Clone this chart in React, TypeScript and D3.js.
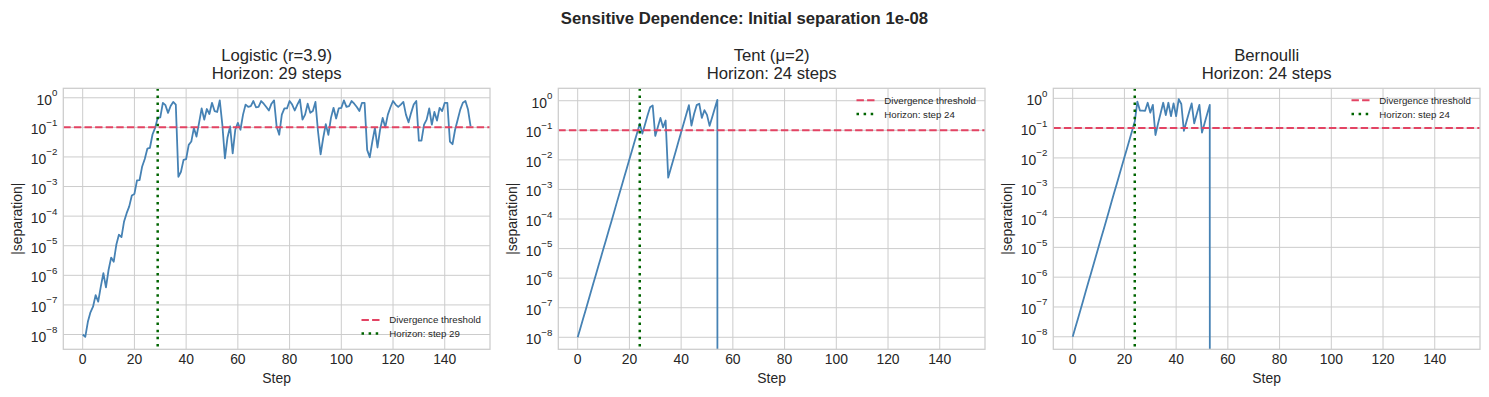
import React from 'react';
import * as d3 from 'd3';

// ---------- data ----------
const SUPTITLE = 'Sensitive Dependence: Initial separation 1e-08';
const STEP_TICKS = [0, 20, 40, 60, 80, 100, 120, 140];
const DECADE_TICKS = [-8, -7, -6, -5, -4, -3, -2, -1, 0];
const THRESHOLD = 0.1;
const panelNames = ['Logistic (r=3.9)', 'Tent (μ=2)', 'Bernoulli'];
const horizons = [29, 24, 24];

// log10(|separation|) per step; null = separation collapsed to exactly 0
const logisticExp = [
  -8.0, -8.08, -7.57, -7.25, -7.06, -6.67, -6.89, -6.38, -5.93, -6.41,
  -5.82, -5.4, -5.54, -4.97, -4.63, -4.71, -4.18, -3.9, -3.67, -3.3,
  -3.25, -2.79, -2.78, -2.32, -2.07, -1.72, -1.69, -1.24, -1.02, -0.68,
  -0.66, -0.17, -0.25, -0.51, -0.28, -0.14, -0.23, -2.67, -2.5, -2.1,
  -2.07, -1.59, -1.48, -1.02, -1.31, -0.85, -0.36, -0.74, -0.38, -0.55,
  -0.17, -0.45, -0.48, -0.09, -0.91, -2.05, -1.34, -0.97, -1.88, -1.08,
  -0.85, -1.08, -0.57, -0.23, -0.31, -0.28, -0.11, -0.32, -0.31, -0.11,
  -0.2, -0.31, -0.43, -0.2, -0.09, -0.97, -1.25, -0.57, -0.36, -0.36,
  -0.11, -0.23, -0.43, -0.23, -0.06, -0.74, -0.57, -0.2, -0.51, -0.45,
  -0.14, -1.14, -1.91, -1.36, -0.89, -1.25, -0.68, -0.34, -0.7, -0.36,
  -0.34, -0.09, -0.31, -0.28, -0.11, -0.2, -0.31, -0.45, -0.17, -0.17,
  -1.76, -2.01, -1.48, -1.02, -1.68, -1.08, -0.68, -1.0, -0.57, -0.32,
  -0.11, -0.23, -0.31, -0.23, -0.14, -0.57, -0.83, -0.51, -0.23, -0.11,
  -1.45, -1.45, -0.91, -0.74, -0.36, -0.91, -0.48, -0.77, -0.34, -0.45,
  -0.17, -0.17, -1.48, -1.57, -1.08, -0.74, -0.4, -0.17, -0.11, -0.4,
  -0.97,
];

const tentExp = [
  -8.0, -7.7, -7.4, -7.1, -6.8, -6.49, -6.19, -5.89, -5.59, -5.29,
  -4.99, -4.69, -4.39, -4.09, -3.79, -3.48, -3.18, -2.88, -2.58, -2.28,
  -1.98, -1.68, -1.38, -1.08, -0.78, -1.11, -0.81, -0.5, -0.22, -0.16,
  -1.19, -0.89, -0.58, -0.9, -0.67, -2.6, -2.29, -1.99, -1.68, -1.37,
  -1.07, -0.76, -0.46, -0.15, -0.84, -0.45, -0.15, -0.1, -0.58, -0.32,
  -0.48, -0.85, -0.56, -0.26, 0.03, null,
];

const bernoulliExp = [
  -8.0, -7.7, -7.4, -7.1, -6.8, -6.49, -6.19, -5.89, -5.59, -5.29,
  -4.99, -4.69, -4.39, -4.09, -3.79, -3.48, -3.18, -2.88, -2.58, -2.28,
  -1.98, -1.68, -1.38, -1.08, -0.78, -0.11, -0.41, -0.41, -0.42, -0.15,
  -0.48, -0.22, -1.23, -0.85, -0.5, -0.15, -0.56, -0.15, -0.6, -0.17,
  -0.6, -0.03, -0.19, -1.09, -0.78, -0.47, -0.17, -0.84, -0.52, -0.22,
  -1.15, -0.84, -0.53, -0.22, null,
];

const seriesExps = [logisticExp, tentExp, bernoulliExp];

// ---------- layout ----------
const W = 1489;
const H = 397;
const AX_LEFTS = [63.3, 558.3, 1053.3];
const AX_W = 426.7;
const AX_TOP = 88.3;
const AX_BOTTOM = 349.3;
const X_DOMAIN = [-7.5, 157.5];
const Y_DOMAIN_EXP = [
  [-8.5, 0.32],
  [-8.406, 0.42],
  [-8.42, 0.336],
];
const LEGEND_LOC = ['lower right', 'upper right', 'upper right'];

const FONT = 'Liberation Sans, Arial, Helvetica, sans-serif';
const TEXT = '#262626';
const GRID = '#cccccc';
const BLUE = '#4682b4';
const RED = '#e34363';
const GREEN = '#006400';

function Panel({ idx }: { idx: number }) {
  const left = AX_LEFTS[idx];
  const right = left + AX_W;
  const x = d3.scaleLinear().domain(X_DOMAIN).range([left, right]);
  const [e0, e1] = Y_DOMAIN_EXP[idx];
  const y = d3
    .scaleLog()
    .domain([Math.pow(10, e0), Math.pow(10, e1)])
    .range([AX_BOTTOM, AX_TOP]);

  const data = seriesExps[idx].map((e, i) => ({
    step: i,
    sep: e === null ? 0 : Math.pow(10, e),
  }));
  const line = d3
    .line<{ step: number; sep: number }>()
    .x((d) => x(d.step))
    .y((d) => y(d.sep > 0 ? d.sep : 1e-300));

  const clipId = `clip-${idx}`;
  const cx = (left + right) / 2;
  const cy = (AX_TOP + AX_BOTTOM) / 2;

  const lower = LEGEND_LOC[idx] === 'lower right';
  const rows = lower
    ? [AX_BOTTOM - 29.3, AX_BOTTOM - 15.8]
    : [AX_TOP + 12, AX_TOP + 25.8];
  const hx0 = right - 128.5;
  const hx1 = right - 110;
  const tx = right - 100.7;

  return (
    <g>
      <defs>
        <clipPath id={clipId}>
          <rect x={left} y={AX_TOP} width={AX_W} height={AX_BOTTOM - AX_TOP} />
        </clipPath>
      </defs>
      {/* grid */}
      {STEP_TICKS.map((t) => (
        <line
          key={`gx${t}`}
          x1={x(t)}
          x2={x(t)}
          y1={AX_TOP}
          y2={AX_BOTTOM}
          stroke={GRID}
          strokeWidth={1}
        />
      ))}
      {DECADE_TICKS.map((e) => (
        <line
          key={`gy${e}`}
          x1={left}
          x2={right}
          y1={y(Math.pow(10, e))}
          y2={y(Math.pow(10, e))}
          stroke={GRID}
          strokeWidth={1}
        />
      ))}
      <g clipPath={`url(#${clipId})`}>
        <path d={line(data) || ''} fill="none" stroke={BLUE} strokeWidth={1.8} strokeLinejoin="round" />
        <line
          x1={left}
          x2={right}
          y1={y(THRESHOLD)}
          y2={y(THRESHOLD)}
          stroke={RED}
          strokeWidth={2}
          strokeDasharray="7.4 3.2"
        />
        <line
          x1={x(horizons[idx])}
          x2={x(horizons[idx])}
          y1={AX_TOP}
          y2={AX_BOTTOM}
          stroke={GREEN}
          strokeWidth={2.5}
          strokeDasharray="2.5 4.6"
        />
      </g>
      {/* spines */}
      <rect
        x={left}
        y={AX_TOP}
        width={AX_W}
        height={AX_BOTTOM - AX_TOP}
        fill="none"
        stroke={GRID}
        strokeWidth={1.25}
      />
      {/* x tick labels */}
      {STEP_TICKS.map((t) => (
        <text
          key={`xt${t}`}
          x={x(t)}
          y={364}
          textAnchor="middle"
          fontSize={13.9}
          fill={TEXT}
          fontFamily={FONT}
        >
          {t}
        </text>
      ))}
      {/* y tick labels */}
      {DECADE_TICKS.map((e) => (
        <text
          key={`yt${e}`}
          x={left - 6}
          y={y(Math.pow(10, e)) + 7}
          textAnchor="end"
          fontSize={13.9}
          fill={TEXT}
          fontFamily={FONT}
        >
          <tspan>10</tspan>
          <tspan dy={-8.5} fontSize={9.7}>
            {e < 0 ? `\u2212${-e}` : `${e}`}
          </tspan>
        </text>
      ))}
      {/* axis labels */}
      <text x={cx} y={383} textAnchor="middle" fontSize={13.9} fill={TEXT} fontFamily={FONT}>
        Step
      </text>
      <text
        transform={`translate(${left - 41.8},${cy}) rotate(-90)`}
        textAnchor="middle"
        fontSize={13.9}
        fill={TEXT}
        fontFamily={FONT}
      >
        |separation|
      </text>
      {/* title */}
      <text x={cx} y={61} textAnchor="middle" fontSize={16.7} fill={TEXT} fontFamily={FONT}>
        {panelNames[idx]}
      </text>
      <text x={cx} y={78.5} textAnchor="middle" fontSize={16.7} fill={TEXT} fontFamily={FONT}>
        {`Horizon: ${horizons[idx]} steps`}
      </text>
      {/* legend */}
      <line x1={hx0} x2={hx1} y1={rows[0]} y2={rows[0]} stroke={RED} strokeWidth={2} strokeDasharray="7.4 3.2" />
      <text x={tx} y={rows[0] + 3.4} fontSize={9.7} fill={TEXT} fontFamily={FONT}>
        Divergence threshold
      </text>
      <line
        x1={hx0}
        x2={hx1}
        y1={rows[1]}
        y2={rows[1]}
        stroke={GREEN}
        strokeWidth={2.5}
        strokeDasharray="2.5 4.6"
      />
      <text x={tx} y={rows[1] + 3.4} fontSize={9.7} fill={TEXT} fontFamily={FONT}>
        {`Horizon: step ${horizons[idx]}`}
      </text>
    </g>
  );
}

export default function App() {
  return (
    <svg
      width={W}
      height={H}
      viewBox={`0 0 ${W} ${H}`}
      style={{ position: 'absolute', left: 0, top: 0, background: '#ffffff' }}
    >
      <rect x={0} y={0} width={W} height={H} fill="#ffffff" />
      <text
        x={W / 2}
        y={24}
        textAnchor="middle"
        fontSize={16.7}
        fontWeight="bold"
        fill={TEXT}
        fontFamily={FONT}
      >
        {SUPTITLE}
      </text>
      {[0, 1, 2].map((i) => (
        <Panel key={i} idx={i} />
      ))}
    </svg>
  );
}
